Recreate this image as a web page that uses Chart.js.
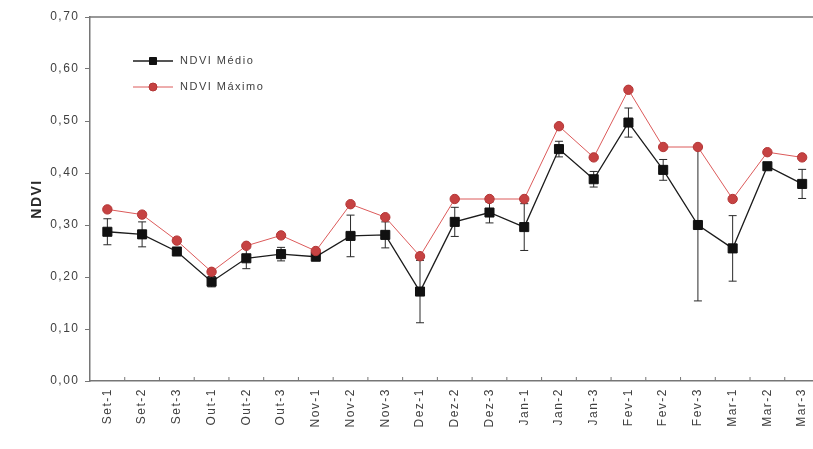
<!DOCTYPE html>
<html><head><meta charset="utf-8">
<script src="https://cdn.jsdelivr.net/npm/chart.js@4/dist/chart.umd.min.js"></script>
<style>
html,body{margin:0;padding:0;overflow:hidden;background:#fff}
#wrap{width:813px;height:449px;overflow:hidden;position:relative;background:#fff}
canvas{display:block}
</style>
</head><body>
<div id="wrap"><canvas id="c" width="830" height="449" style="width:830px;height:449px"></canvas></div>
<script>
const categories = ['Set-1','Set-2','Set-3','Out-1','Out-2','Out-3','Nov-1','Nov-2','Nov-3','Dez-1','Dez-2','Dez-3','Jan-1','Jan-2','Jan-3','Fev-1','Fev-2','Fev-3','Mar-1','Mar-2','Mar-3'];
const ndviMedio = [0.287,0.282,0.249,0.191,0.236,0.244,0.239,0.279,0.281,0.172,0.306,0.324,0.296,0.446,0.388,0.497,0.406,0.300,0.255,0.413,0.379];
const ndviMedioErr = [0.025,0.024,0.006,0.010,0.020,0.013,0.005,0.040,0.025,0.060,0.028,0.020,0.045,0.015,0.015,0.028,0.020,0.146,0.063,0.006,0.028];
const ndviMaximo = [0.33,0.32,0.27,0.21,0.26,0.28,0.25,0.34,0.315,0.24,0.35,0.35,0.35,0.49,0.43,0.56,0.45,0.45,0.35,0.44,0.43];
const yTickLabels = ['0,00','0,10','0,20','0,30','0,40','0,50','0,60','0,70'];
const seriesNames = ['NDVI Médio','NDVI Máximo'];
const yTitle = 'NDVI';

const AXIS = '#767676';
const TXT = '#404040';
const FONT = "'Liberation Sans', Arial, sans-serif";
const SPACING = '1.5px';

const spacingPlugin = {
  id: 'spacing',
  afterInit(chart){ chart.ctx.letterSpacing = SPACING; },
  beforeUpdate(chart){ chart.ctx.letterSpacing = SPACING; },
  beforeDraw(chart){ chart.ctx.letterSpacing = SPACING; }
};

const framePlugin = {
  id: 'frame',
  afterDraw(chart){
    const ctx = chart.ctx, a = chart.chartArea, xs = chart.scales.x;
    ctx.save();
    ctx.strokeStyle = AXIS; ctx.lineWidth = 1.5;
    ctx.beginPath(); ctx.moveTo(a.left, a.top); ctx.lineTo(a.right, a.top); ctx.stroke();
    ctx.lineWidth = 1;
    const n = chart.data.labels.length;
    for (let i = 0; i < n; i++) {
      const xb = (xs.getPixelForValue(i) + xs.getPixelForValue(i + 1)) / 2;
      ctx.beginPath(); ctx.moveTo(xb, a.bottom); ctx.lineTo(xb, a.bottom - 4); ctx.stroke();
    }
    ctx.restore();
  }
};

const errorBarPlugin = {
  id: 'errorBars',
  beforeDatasetsDraw(chart){
    const ctx = chart.ctx, xs = chart.scales.x, ys = chart.scales.y;
    ctx.save();
    ctx.strokeStyle = '#2a2a2a'; ctx.lineWidth = 1;
    ndviMedio.forEach((v, i) => {
      const e = ndviMedioErr[i];
      const x = xs.getPixelForValue(i);
      const yt = ys.getPixelForValue(v + e), yb = ys.getPixelForValue(v - e);
      ctx.beginPath();
      ctx.moveTo(x, yt); ctx.lineTo(x, yb);
      ctx.moveTo(x - 4, yt); ctx.lineTo(x + 4, yt);
      ctx.moveTo(x - 4, yb); ctx.lineTo(x + 4, yb);
      ctx.stroke();
    });
    ctx.restore();
  }
};

const legendPlugin = {
  id: 'innerLegend',
  afterDatasetsDraw(chart){
    const ctx = chart.ctx, a = chart.chartArea;
    ctx.save();
    chart.data.datasets.forEach((ds, i) => {
      const y = a.top + 44 + i * 26;
      const x0 = a.left + 43, x1 = a.left + 83, xm = (x0 + x1) / 2;
      ctx.strokeStyle = ds.borderColor; ctx.lineWidth = ds.borderWidth;
      ctx.beginPath(); ctx.moveTo(x0, y); ctx.lineTo(x1, y); ctx.stroke();
      ctx.fillStyle = ds.pointBackgroundColor; ctx.strokeStyle = ds.pointBorderColor; ctx.lineWidth = 1;
      ctx.beginPath();
      if (ds.pointStyle === 'rect') ctx.rect(xm - 3.5, y - 3.5, 7, 7);
      else ctx.arc(xm, y, 4, 0, Math.PI * 2);
      ctx.fill(); ctx.stroke();
      ctx.fillStyle = TXT; ctx.font = "11px " + FONT;
      ctx.letterSpacing = SPACING;
      ctx.textAlign = 'left'; ctx.textBaseline = 'middle';
      ctx.fillText(ds.label, a.left + 90, y);
    });
    ctx.restore();
  }
};

new Chart(document.getElementById('c'), {
  type: 'line',
  data: {
    labels: categories,
    datasets: [
      {
        label: seriesNames[0], data: ndviMedio,
        borderColor: '#1c1c1c', borderWidth: 1.3,
        pointStyle: 'rect', pointRadius: 6.4,
        pointBackgroundColor: '#111', pointBorderColor: '#111', pointBorderWidth: 1,
        tension: 0, order: 2
      },
      {
        label: seriesNames[1], data: ndviMaximo,
        borderColor: '#dc5a5a', borderWidth: 1,
        pointStyle: 'circle', pointRadius: 4.7,
        pointBackgroundColor: '#c64242', pointBorderColor: '#b33636', pointBorderWidth: 1,
        tension: 0, order: 1
      }
    ]
  },
  options: {
    responsive: false,
    animation: false,
    devicePixelRatio: 1,
    layout: { padding: { left: 0, top: 17, right: 10.5, bottom: 0 } },
    plugins: { legend: { display: false }, tooltip: { enabled: false } },
    scales: {
      x: {
        type: 'category', offset: true,
        grid: { display: true, offset: true, drawOnChartArea: false, drawTicks: false },
        border: { display: true, color: AXIS, width: 1.5 },
        ticks: { autoSkip: false, minRotation: 90, maxRotation: 90, padding: 7, color: TXT, font: { family: FONT, size: 12 } },
        afterFit(s){ s.height = 68; }
      },
      y: {
        min: 0, max: 0.7,
        grid: { display: true, drawOnChartArea: false, drawTicks: true, tickLength: 5, color: AXIS },
        border: { display: true, color: AXIS, width: 1.5 },
        ticks: { stepSize: 0.1, padding: 5.5, color: TXT, font: { family: FONT, size: 12 },
          callback: (v, i) => yTickLabels[i] },
        title: { display: true, text: yTitle, color: '#2a2a2a', font: { family: FONT, size: 14, weight: 'bold' }, padding: { top: 29, bottom: 0 } },
        afterFit(s){ s.width = 90; }
      }
    }
  },
  plugins: [spacingPlugin, errorBarPlugin, legendPlugin, framePlugin]
});
</script>
</body></html>
